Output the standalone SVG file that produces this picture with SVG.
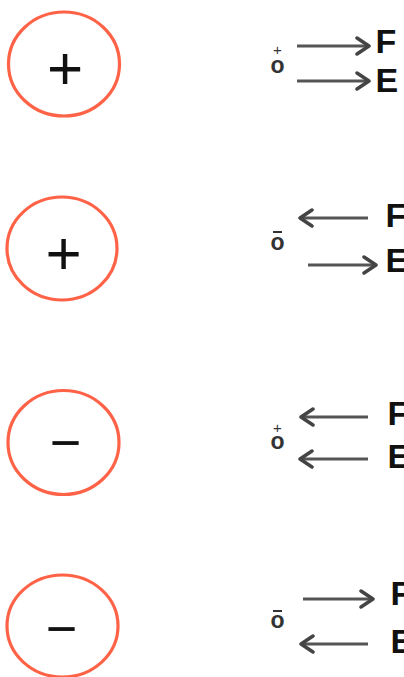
<svg xmlns="http://www.w3.org/2000/svg" width="404" height="677" viewBox="0 0 404 677">
<style>
.ring{fill:none;stroke:#ff6347;stroke-width:3.2}
.sign{font-family:"Liberation Sans",Arial,sans-serif;fill:#111;text-anchor:middle}
.lbl{font-family:"Liberation Sans",Arial,sans-serif;font-weight:bold;font-size:34px;fill:#111}
.chg{font-family:"Liberation Sans",Arial,sans-serif;font-weight:bold;font-size:23px;fill:#333;text-anchor:middle}
.sm{font-family:"Liberation Sans",Arial,sans-serif;font-size:15px;fill:#333;text-anchor:middle}
.arr{fill:none;stroke:#555;stroke-width:3;marker-end:url(#ah)}
</style>
<defs>
<marker id="ah" markerUnits="userSpaceOnUse" markerWidth="20" markerHeight="20" viewBox="0 0 20 20" refX="16" refY="10" orient="auto">
<path d="M4,2 L16,10 L4,18" fill="none" stroke="#444" stroke-width="3.5" stroke-linejoin="round" stroke-linecap="round"/>
</marker>
</defs>
<rect width="404" height="677" fill="#fff"/>
<g id="source1"><ellipse class="ring" cx="64" cy="64" rx="55.5" ry="52"/><text class="sign" x="65" y="88.6" font-size="62">+</text></g>
<g id="source2"><ellipse class="ring" cx="62" cy="248.5" rx="55" ry="51.5"/><text class="sign" x="63.5" y="273.6" font-size="62">+</text></g>
<g id="source3"><ellipse class="ring" cx="63.5" cy="442.5" rx="55.5" ry="52"/><text class="sign" x="65.5" y="461" font-size="54">−</text></g>
<g id="source4"><ellipse class="ring" cx="62.5" cy="626" rx="55.5" ry="51"/><text class="sign" x="61.5" y="647" font-size="54">−</text></g>
<g id="test1"><text class="sm" x="277.5" y="55">+</text><text class="chg" x="277.5" y="72.5">o</text></g>
<g id="test2"><rect x="273" y="231" width="9" height="2" fill="#333"/><text class="chg" x="277.5" y="250">o</text></g>
<g id="test3"><text class="sm" x="277.5" y="433">+</text><text class="chg" x="277.5" y="448.5">o</text></g>
<g id="test4"><rect x="273" y="610" width="9" height="2" fill="#333"/><text class="chg" x="277.5" y="628">o</text></g>
<g id="labels">
<text class="lbl" x="375.5" y="53">F</text><text class="lbl" x="375.5" y="92">E</text>
<text class="lbl" x="385.5" y="227">F</text><text class="lbl" x="385.5" y="272">E</text>
<text class="lbl" x="387.5" y="425">F</text><text class="lbl" x="387.5" y="468">E</text>
<text class="lbl" x="390.5" y="605">F</text><text class="lbl" x="390.5" y="653">E</text>
</g>
<g id="connectors">
<path class="arr" d="M297,46 L369,46"/>
<path class="arr" d="M297,81 L369,81"/>
<path class="arr" d="M368,218 L300,218"/>
<path class="arr" d="M308,265 L376,265"/>
<path class="arr" d="M368,417 L301,417"/>
<path class="arr" d="M368,459 L300,459"/>
<path class="arr" d="M303,599 L373,599"/>
<path class="arr" d="M368,644 L301,644"/>
</g>
</svg>
